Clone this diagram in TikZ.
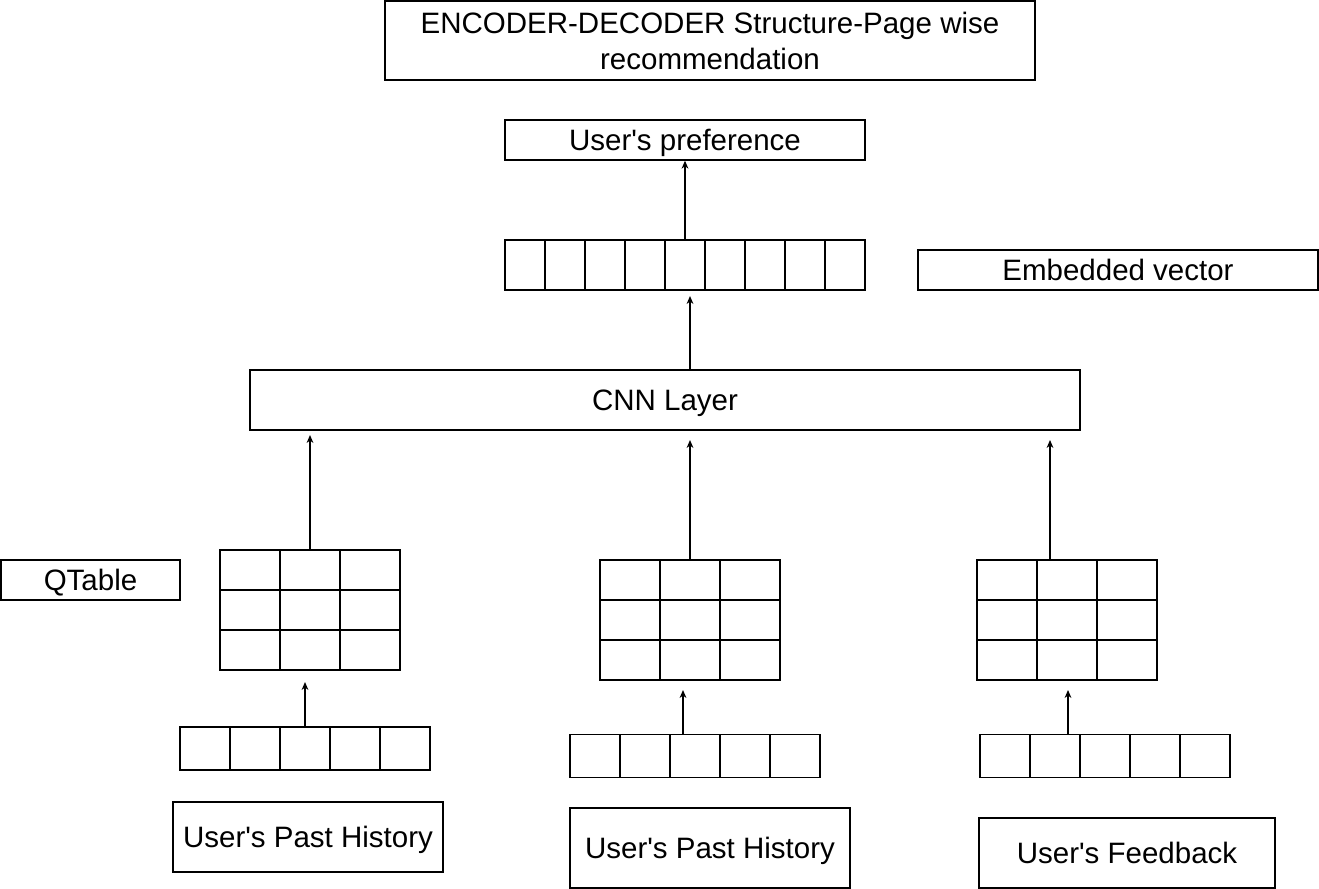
\documentclass[tikz,border=0pt]{standalone}
\usepackage{fontspec}
\setmainfont{Liberation Sans}
\usetikzlibrary{arrows.meta}
\newcommand{\apos}{\textquotesingle}
\tikzset{
  box/.style={draw, line width=0.7pt, inner sep=0pt, align=center, font=\fontsize{14.75}{18}\selectfont},
  onebox/.style={box, text height=13.5pt, text depth=3pt},
  ecell/.style={draw, line width=0.7pt, inner sep=0pt, minimum width=20pt, minimum height=25pt},
  qcell/.style={draw, line width=0.7pt, inner sep=0pt, minimum width=30pt, minimum height=20pt},
  vcell/.style={draw, line width=0.7pt, inner sep=0pt, minimum width=25pt, minimum height=21.5pt},
  arr/.style={-{Stealth[length=4pt,width=3.4pt]}, line width=0.6pt}
}
\begin{document}
\begin{tikzpicture}[x=0.5pt,y=-0.5pt]
\useasboundingbox (0,0) rectangle (1319,889);
% labels
\node[box, minimum width=325pt, minimum height=39.5pt] (title) at (710,40.5) {ENCODER-DECODER Structure-Page wise\\recommendation};
\node[onebox, minimum width=180pt, minimum height=20pt] (pref) at (685,140) {User\apos s preference};
\node[onebox, minimum width=200pt, minimum height=20pt] (emblabel) at (1118,270) {Embedded vector};
\node[onebox, minimum width=415pt, minimum height=30pt] (cnn) at (665,400) {CNN Layer};
\node[onebox, minimum width=89.5pt, minimum height=20pt] (qlabel) at (90.5,580) {QTable};
\node[onebox, minimum width=135pt, minimum height=35pt] (pasta) at (308,837) {User\apos s Past History};
\node[onebox, minimum width=140pt, minimum height=40pt] (pastb) at (710,848) {User\apos s Past History};
\node[onebox, minimum width=148pt, minimum height=35pt] (feed) at (1127,853) {User\apos s Feedback};
% embedded vector
\foreach \i in {1,...,9}
  \node[ecell] (e-\i) at (485+40*\i,265) {};
% q tables
\foreach \r in {1,2,3}
  \foreach \c in {1,2,3} {
    \node[qcell] (ta-\r-\c) at (190+60*\c,530+40*\r) {};
    \node[qcell] (tb-\r-\c) at (570+60*\c,540+40*\r) {};
    \node[qcell] (tc-\r-\c) at (947+60*\c,540+40*\r) {};
  }
% input vectors
\foreach \i in {1,...,5} {
  \node[vcell] (va-\i) at (155+50*\i,748.5) {};
  \node[vcell] (vb-\i) at (545+50*\i,756) {};
  \node[vcell] (vc-\i) at (955+50*\i,756) {};
}
% arrow ends
\coordinate (ha) at (305,682);
\coordinate (hb) at (683,690);
\coordinate (hc) at (1068,690);
\coordinate (ca) at (310,435);
\coordinate (cb) at (690,440);
\coordinate (cc) at (1050,440);
\coordinate (up) at (690,296);
% arrows
\draw[arr] (ha |- va-3.north) -- (ha);
\draw[arr] (hb |- vb-3.north) -- (hb);
\draw[arr] (hc |- vc-2.north) -- (hc);
\draw[arr] (ta-1-2.north) -- (ca);
\draw[arr] (tb-1-2.north) -- (cb);
\draw[arr] (cc |- tc-1-2.north) -- (cc);
\draw[arr] (up |- cnn.north) -- (up);
\draw[arr] (e-5.north) -- (pref.south);
\end{tikzpicture}
\end{document}
